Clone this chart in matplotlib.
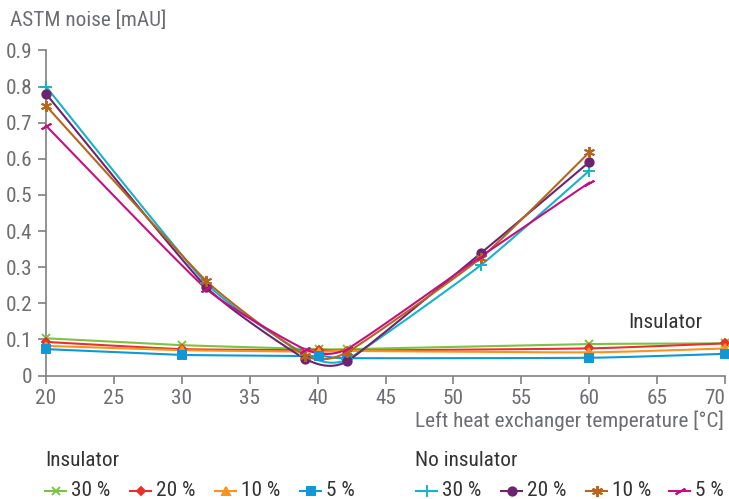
import numpy as np
import matplotlib
matplotlib.use("Agg")
import matplotlib.pyplot as plt
from matplotlib import font_manager as fm
from matplotlib.lines import Line2D

# pick a condensed face if one is installed
installed = set(f.name for f in fm.fontManager.ttflist)
wanted = ['Roboto Condensed', 'Fira Sans Condensed', 'Liberation Sans Narrow',
          'Archivo Narrow', 'PT Sans Narrow', 'IBM Plex Sans Condensed',
          'Encode Sans Condensed', 'Asap Condensed', 'Barlow Semi Condensed',
          'Open Sans Condensed']
narrow = [w for w in wanted if w in installed]
plt.rcParams['font.family'] = narrow[:1] + ['DejaVu Sans']

# Insulator series
x_ins = [20, 30, 40.1, 42.2, 60, 70]
ins_30 = [0.103, 0.084, 0.073, 0.073, 0.087, 0.089]
ins_20 = [0.093, 0.073, 0.070, 0.069, 0.075, 0.089]
ins_10 = [0.082, 0.070, 0.066, 0.068, 0.064, 0.075]
ins_5 = [0.073, 0.057, 0.054, 0.048, 0.049, 0.060]

# No insulator series
x_no = [20, 31.8, 39.1, 42.2, 52, 60]
no_30 = [0.800, 0.255, 0.058, 0.045, 0.305, 0.567]
no_20 = [0.780, 0.245, 0.046, 0.040, 0.338, 0.591]
no_10 = [0.747, 0.262, 0.055, 0.065, 0.325, 0.618]
no_5 = [0.692, 0.240, 0.072, 0.074, 0.329, 0.534]

labels = ["30 %", "20 %", "10 %", "5 %"]


def smooth(xs, ys, k=1/12, n=30):
    # bezier smoothing between points, like a spreadsheet smoothed line
    xs = np.asarray(xs, float)
    ys = np.asarray(ys, float)
    px = np.concatenate([[xs[0]], xs, [xs[-1]]])
    py = np.concatenate([[ys[0]], ys, [ys[-1]]])
    outx, outy = [], []
    t = np.linspace(0, 1, n)
    for i in range(1, len(px) - 2):
        p1x, p1y = px[i], py[i]
        p2x, p2y = px[i + 1], py[i + 1]
        c1x = p1x + (p2x - px[i - 1]) * k
        c1y = p1y + (p2y - py[i - 1]) * k
        c2x = p2x - (px[i + 2] - p1x) * k
        c2y = p2y - (py[i + 2] - p1y) * k
        bx = (1-t)**3*p1x + 3*(1-t)**2*t*c1x + 3*(1-t)*t**2*c2x + t**3*p2x
        by = (1-t)**3*p1y + 3*(1-t)**2*t*c1y + 3*(1-t)*t**2*c2y + t**3*p2y
        outx.extend(bx)
        outy.extend(by)
    return outx, outy


W, H = 729, 499
fig = plt.figure(figsize=(W / 100, H / 100), dpi=100)
ax = fig.add_axes([46 / W, 1 - 375.5 / H, 679 / W, 325 / H])

fs = 15.3
ins_styles = [
    (ins_30, "#7dc242", "x", 6),
    (ins_20, "#e8312f", "D", 4),
    (ins_10, "#f7941d", "^", 6),
    (ins_5, "#0f97d8", "s", 6),
]
no_styles = [
    (no_30, "#19b2c9", "+", 8),
    (no_20, "#6b2470", "o", 6),
    (no_10, "#b5651d", (6, 2, 0), 8),
    (no_5, "#c4117f", (2, 2, -60), 8),
]

for xs, styles in [(x_ins, ins_styles), (x_no, no_styles)]:
    for vals, col, mk, ms in styles:
        sx, sy = smooth(xs, vals)
        ax.plot(sx, sy, color=col, lw=1.5, clip_on=False, zorder=3)
        ax.plot(xs, vals, ls="none", marker=mk, color=col, ms=ms, mew=1.4,
                clip_on=False, zorder=4)

ax.set_xlim(20, 70)
ax.set_ylim(0, 0.9)
ax.set_xticks(np.arange(20, 71, 5))
ax.set_yticks(np.arange(0, 0.91, 0.1))
ax.set_yticklabels(["0"] + ["%.1f" % v for v in np.arange(0.1, 0.91, 0.1)])

grey = "#808080"
for s in ["top", "right"]:
    ax.spines[s].set_visible(False)
for s in ["left", "bottom"]:
    ax.spines[s].set_color(grey)
    ax.spines[s].set_linewidth(1.2)
ax.tick_params(colors=grey, labelcolor="#6d6e71", labelsize=fs, length=6,
               width=1.2, direction="out")
ax.tick_params(axis="x", pad=4)
ax.tick_params(axis="y", pad=4)
# last x label is pulled in so it stays inside the picture
ax.get_xticklabels()[-1].set_ha("right")

fig.text(10 / W, 1 - 20 / H, "ASTM noise [mAU]", color="#6d6e71",
         fontsize=fs, ha="left", va="center")
fig.text(724 / W, 1 - 421 / H, "Left heat exchanger temperature [°C]",
         color="#6d6e71", fontsize=fs, ha="right", va="center")
ax.text(62.9, 0.147, "Insulator", color="#333333", fontsize=fs,
        ha="left", va="center")

# legend built by hand so each entry sits where the reference has it
fig.text(45 / W, 1 - 461 / H, "Insulator", color="#333333",
         fontsize=fs, ha="left", va="center")
fig.text(415 / W, 1 - 461 / H, "No insulator", color="#333333",
         fontsize=fs, ha="left", va="center")

leg_y = 1 - 491 / H
ins_x = [45, 130, 215, 300]
no_x = [416, 501, 586, 669]
for starts, styles in [(ins_x, ins_styles), (no_x, no_styles)]:
    for x0, (vals, col, mk, ms), lab in zip(starts, styles, labels):
        fig.add_artist(Line2D([x0 / W, (x0 + 21) / W], [leg_y, leg_y],
                              color=col, lw=1.5))
        fig.add_artist(Line2D([(x0 + 10.5) / W], [leg_y], ls="none",
                              marker=mk, color=col, ms=ms, mew=1.4))
        fig.text((x0 + 26) / W, leg_y, lab, color="#333333", fontsize=fs,
                 ha="left", va="center")

fig.savefig("out.png", dpi=100)
